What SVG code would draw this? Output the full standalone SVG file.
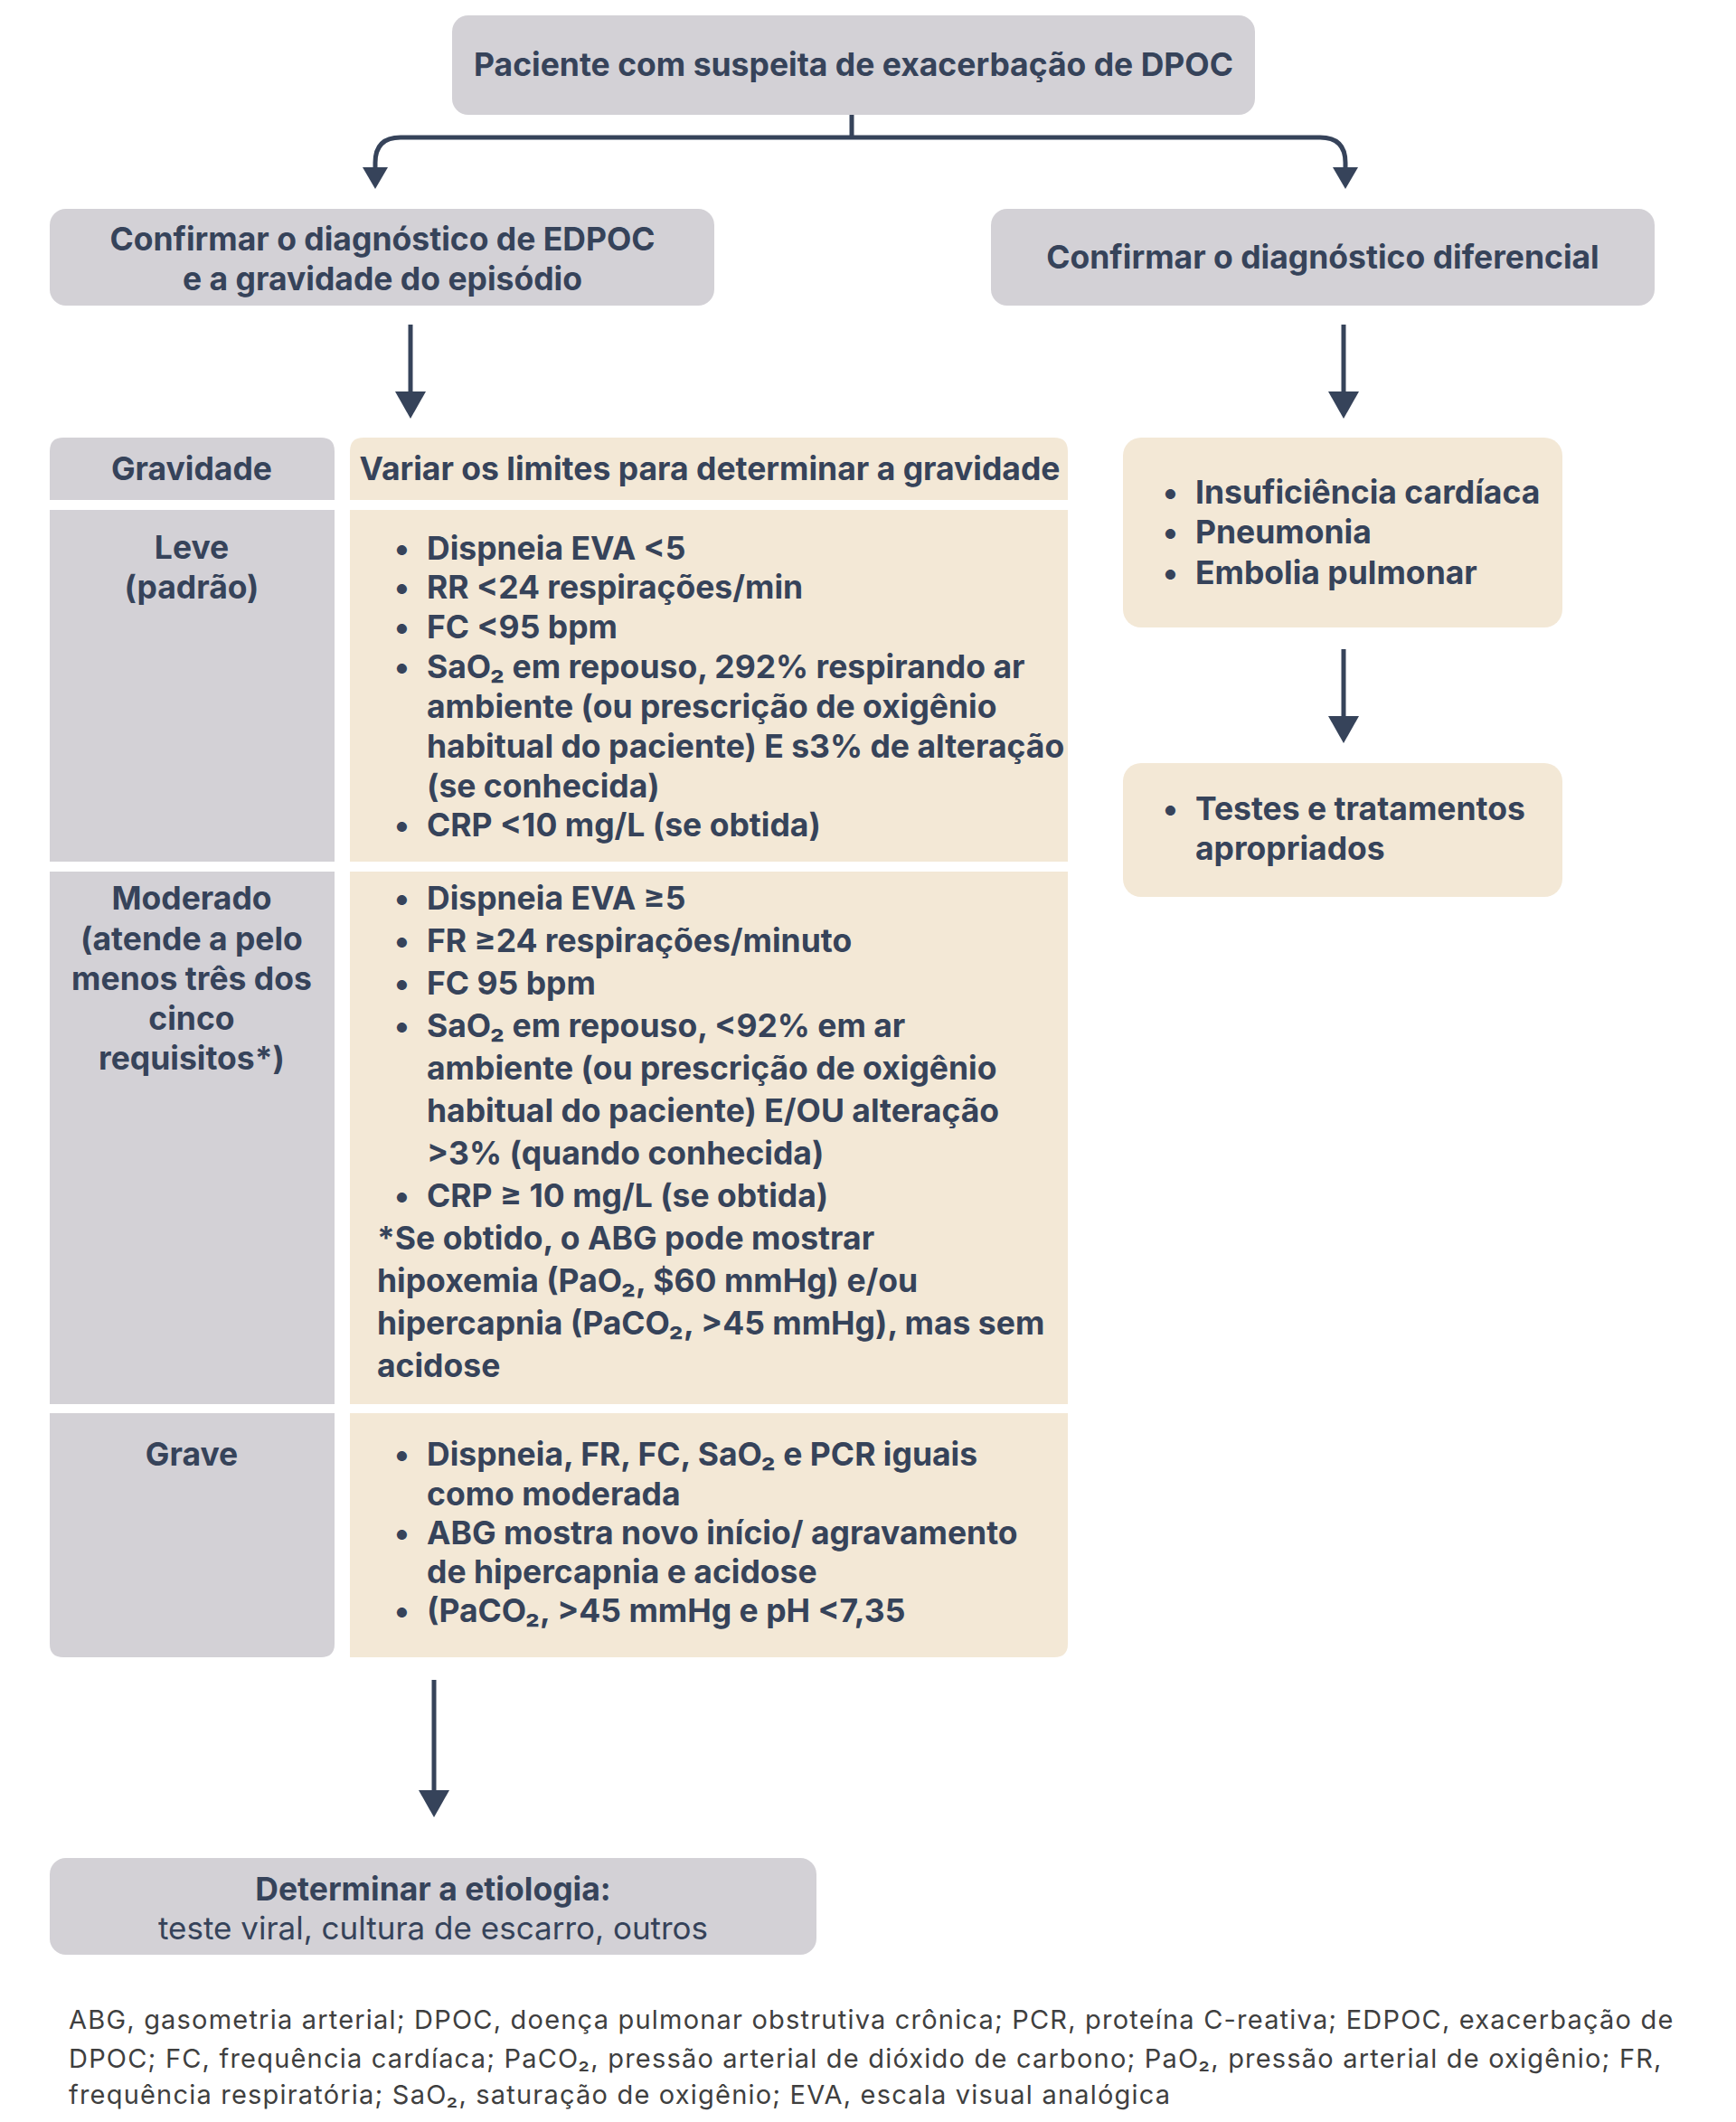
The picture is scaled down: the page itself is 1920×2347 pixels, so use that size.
<svg xmlns="http://www.w3.org/2000/svg" width="1920" height="2347" viewBox="0 0 1920 2347">
<style>
.g{fill:#D3D1D6}
.b{fill:#F3E8D6}
text{font-family:Inter,"Liberation Sans",sans-serif;fill:#36435A}
.t{font-size:35.5px;font-weight:700}
.c{text-anchor:middle}
.r{font-size:35px;font-weight:400}
.fn{font-size:29px;font-weight:400;fill:#3f3f3f;letter-spacing:1.2px}
.ln{fill:none;stroke:#36435A;stroke-width:5}
</style>
<defs>
<marker id="ah" markerUnits="userSpaceOnUse" markerWidth="26" markerHeight="30" viewBox="0 -15 26 30" refX="0" refY="0" orient="auto">
<path d="M0,-14 L24,0 L0,14 z" fill="#36435A"/>
</marker>
<marker id="ahb" markerUnits="userSpaceOnUse" markerWidth="32" markerHeight="36" viewBox="0 -18 32 36" refX="0" refY="0" orient="auto">
<path d="M0,-17 L30,0 L0,17 z" fill="#36435A"/>
</marker>
</defs>

<g id="connectors">
<path class="ln" d="M942,127 V152"/>
<path class="ln" marker-end="url(#ah)" d="M942,152 H443 Q415,152 415,180 V185"/>
<path class="ln" marker-end="url(#ah)" d="M942,152 H1460 Q1488,152 1488,180 V185"/>
<path class="ln" marker-end="url(#ahb)" d="M454,359 V433"/>
<path class="ln" marker-end="url(#ahb)" d="M1486,359 V433"/>
<path class="ln" marker-end="url(#ahb)" d="M1486,718 V792"/>
<path class="ln" marker-end="url(#ahb)" d="M480,1858 V1980"/>
</g>

<g id="n-top">
<rect class="g" x="500" y="17" width="888" height="110" rx="18"/>
<text class="t c" x="944" y="84">Paciente com suspeita de exacerbação de DPOC</text>
</g>

<g id="n-edpoc">
<rect class="g" x="55" y="231" width="735" height="107" rx="18"/>
<text class="t c" x="423" y="277">Confirmar o diagnóstico de EDPOC</text>
<text class="t c" x="423" y="321">e a gravidade do episódio</text>
</g>

<g id="n-dif">
<rect class="g" x="1096" y="231" width="734" height="107" rx="18"/>
<text class="t c" x="1463" y="297">Confirmar o diagnóstico diferencial</text>
</g>

<g id="n-grav-h">
<path class="g" d="M55,553 V499 Q55,484 70,484 H355 Q370,484 370,499 V553 Z"/>
<text class="t c" x="212" y="531">Gravidade</text>
</g>

<g id="n-var-h">
<path class="b" d="M387,553 V499 Q387,484 402,484 H1166 Q1181,484 1181,499 V553 Z"/>
<text class="t c" x="785" y="531">Variar os limites para determinar a gravidade</text>
</g>

<g id="n-leve-l">
<rect class="g" x="55" y="564" width="315" height="389"/>
<text class="t c" x="212" y="618">Leve</text>
<text class="t c" x="212" y="662">(padrão)</text>
</g>

<g id="n-leve-r">
<rect class="b" x="387" y="564" width="794" height="389"/>
<g class="t">
<text x="436" y="619">•</text><text x="472" y="619">Dispneia EVA &lt;5</text>
<text x="436" y="662">•</text><text x="472" y="662">RR &lt;24 respirações/min</text>
<text x="436" y="706">•</text><text x="472" y="706">FC &lt;95 bpm</text>
<text x="436" y="750">•</text><text x="472" y="750">SaO₂ em repouso, 292% respirando ar</text>
<text x="472" y="794">ambiente (ou prescrição de oxigênio</text>
<text x="472" y="838">habitual do paciente) E s3% de alteração</text>
<text x="472" y="882">(se conhecida)</text>
<text x="436" y="925">•</text><text x="472" y="925">CRP &lt;10 mg/L (se obtida)</text>
</g>
</g>

<g id="n-mod-l">
<rect class="g" x="55" y="964" width="315" height="589"/>
<text class="t c" x="212" y="1006">Moderado</text>
<text class="t c" x="212" y="1051">(atende a pelo</text>
<text class="t c" x="212" y="1095">menos três dos</text>
<text class="t c" x="212" y="1139">cinco</text>
<text class="t c" x="212" y="1183">requisitos*)</text>
</g>

<g id="n-mod-r">
<rect class="b" x="387" y="964" width="794" height="589"/>
<g class="t">
<text x="436" y="1006">•</text><text x="472" y="1006">Dispneia EVA ≥5</text>
<text x="436" y="1053">•</text><text x="472" y="1053">FR ≥24 respirações/minuto</text>
<text x="436" y="1100">•</text><text x="472" y="1100">FC 95 bpm</text>
<text x="436" y="1147">•</text><text x="472" y="1147">SaO₂ em repouso, &lt;92% em ar</text>
<text x="472" y="1194">ambiente (ou prescrição de oxigênio</text>
<text x="472" y="1241">habitual do paciente) E/OU alteração</text>
<text x="472" y="1288">&gt;3% (quando conhecida)</text>
<text x="436" y="1335">•</text><text x="472" y="1335">CRP ≥ 10 mg/L (se obtida)</text>
<text x="417" y="1382">*Se obtido, o ABG pode mostrar</text>
<text x="417" y="1429">hipoxemia (PaO₂, $60 mmHg) e/ou</text>
<text x="417" y="1476">hipercapnia (PaCO₂, &gt;45 mmHg), mas sem</text>
<text x="417" y="1523">acidose</text>
</g>
</g>

<g id="n-grave-l">
<path class="g" d="M55,1563 H370 V1818 Q370,1833 355,1833 H70 Q55,1833 55,1818 Z"/>
<text class="t c" x="212" y="1621">Grave</text>
</g>

<g id="n-grave-r">
<path class="b" d="M387,1563 H1181 V1818 Q1181,1833 1166,1833 H387 Z"/>
<g class="t">
<text x="436" y="1621">•</text><text x="472" y="1621">Dispneia, FR, FC, SaO₂ e PCR iguais</text>
<text x="472" y="1665">como moderada</text>
<text x="436" y="1708">•</text><text x="472" y="1708">ABG mostra novo início/ agravamento</text>
<text x="472" y="1751">de hipercapnia e acidose</text>
<text x="436" y="1794">•</text><text x="472" y="1794">(PaCO₂, &gt;45 mmHg e pH &lt;7,35</text>
</g>
</g>

<g id="n-diflist">
<rect class="b" x="1242" y="484" width="486" height="210" rx="20"/>
<g class="t">
<text x="1286" y="557">•</text><text x="1322" y="557">Insuficiência cardíaca</text>
<text x="1286" y="601">•</text><text x="1322" y="601">Pneumonia</text>
<text x="1286" y="646">•</text><text x="1322" y="646">Embolia pulmonar</text>
</g>
</g>

<g id="n-testes">
<rect class="b" x="1242" y="844" width="486" height="148" rx="20"/>
<g class="t">
<text x="1286" y="907">•</text><text x="1322" y="907">Testes e tratamentos</text>
<text x="1322" y="951">apropriados</text>
</g>
</g>

<g id="n-etio">
<rect class="g" x="55" y="2055" width="848" height="107" rx="18"/>
<text class="t c" x="479" y="2102">Determinar a etiologia:</text>
<text class="r c" x="479" y="2145">teste viral, cultura de escarro, outros</text>
</g>

<g id="footnote">
<text class="fn" x="76" y="2244">ABG, gasometria arterial; DPOC, doença pulmonar obstrutiva crônica; PCR, proteína C-reativa; EDPOC, exacerbação de</text>
<text class="fn" x="76" y="2287">DPOC; FC, frequência cardíaca; PaCO₂, pressão arterial de dióxido de carbono; PaO₂, pressão arterial de oxigênio; FR,</text>
<text class="fn" x="76" y="2327">frequência respiratória; SaO₂, saturação de oxigênio; EVA, escala visual analógica</text>
</g>
</svg>
